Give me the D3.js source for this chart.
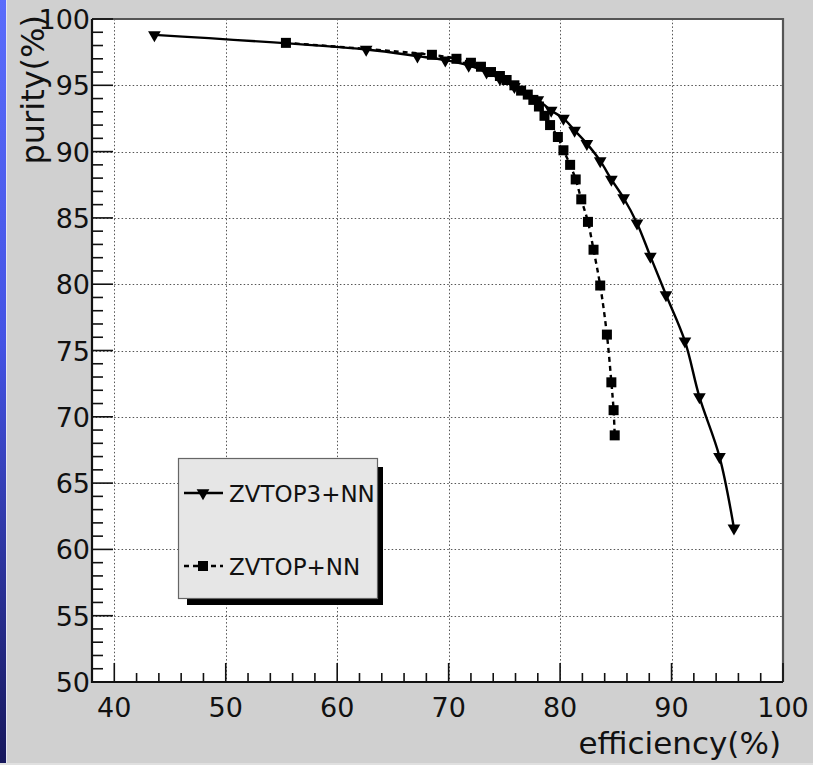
<!DOCTYPE html>
<html><head><meta charset="utf-8">
<script src="https://cdn.jsdelivr.net/npm/d3@7"></script>
<style>html,body{margin:0;padding:0;background:#d0d0d0;overflow:hidden}</style>
</head><body>
<script>
// ---- data ----
const zvtop3Eff = [43.6, 62.6, 67.2, 69.7, 71.8, 73.4, 74.6, 75.9, 78.0, 79.2, 80.3, 81.3, 82.4, 83.6, 84.6, 85.7, 86.9, 88.1, 89.5, 91.2, 92.5, 94.3, 95.6];
const zvtop3Pur = [98.8, 97.7, 97.2, 96.9, 96.5, 96.0, 95.5, 94.9, 93.9, 93.1, 92.5, 91.6, 90.6, 89.3, 87.9, 86.5, 84.6, 82.1, 79.2, 75.7, 71.5, 67.0, 61.6];
const zvtopEff = [55.4, 68.5, 70.7, 72.0, 72.9, 73.8, 74.6, 75.2, 75.9, 76.5, 77.1, 77.6, 78.1, 78.6, 79.1, 79.8, 80.3, 80.9, 81.4, 81.9, 82.5, 83.0, 83.6, 84.2, 84.6, 84.8, 84.9];
const zvtopPur = [98.2, 97.3, 97.0, 96.7, 96.4, 96.0, 95.7, 95.4, 95.0, 94.6, 94.3, 93.9, 93.4, 92.7, 92.0, 91.1, 90.1, 89.0, 87.9, 86.4, 84.7, 82.6, 79.9, 76.2, 72.6, 70.5, 68.6];
const xMajorTicks = [40, 50, 60, 70, 80, 90, 100];
const yMajorTicks = [50, 55, 60, 65, 70, 75, 80, 85, 90, 95, 100];
const seriesNames = ["ZVTOP3+NN", "ZVTOP+NN"];
const xTitle = "efficiency(%)";
const yTitle = "purity(%)";

const W = 813, H = 765;
const L = 92, R = 783, T = 19, B = 682;
const svg = d3.select("body").append("svg").attr("width", W).attr("height", H);
const FONT = "DejaVu Sans";

// background
const defs = svg.append("defs");
const g = defs.append("linearGradient").attr("id","blue").attr("x1",0).attr("y1",0).attr("x2",0).attr("y2",1);
g.append("stop").attr("offset","0").attr("stop-color","#5a6cfb");
g.append("stop").attr("offset","0.45").attr("stop-color","#4352e4");
g.append("stop").attr("offset","1").attr("stop-color","#16175c");
svg.append("rect").attr("width",W).attr("height",H).attr("fill","#d0d0d0");
svg.append("rect").attr("x",0).attr("y",0).attr("width",6).attr("height",H).attr("fill","url(#blue)");
svg.append("rect").attr("x",6).attr("y",0).attr("width",1).attr("height",H).attr("fill","#e4e6f4");
svg.append("rect").attr("x",0).attr("y",H-2).attr("width",W).attr("height",2).attr("fill","#e0e0e0");

const x = d3.scaleLinear().domain([38, 100]).range([L, R]);
const y = d3.scaleLinear().domain([50, 100]).range([B, T]);

svg.append("rect").attr("x",L).attr("y",T).attr("width",R-L).attr("height",B-T).attr("fill","#fff");

// grid
const grid = svg.append("g").attr("stroke","#555").attr("stroke-width",1).attr("stroke-dasharray","1.5,2.2");
grid.selectAll(".gx").data(xMajorTicks.filter(d=>d<100)).join("line")
  .attr("x1",d=>Math.round(x(d))+0.5).attr("x2",d=>Math.round(x(d))+0.5).attr("y1",T).attr("y2",B);
grid.selectAll(".gy").data(yMajorTicks.filter(d=>d>50&&d<100)).join("line")
  .attr("y1",d=>Math.round(y(d))+0.5).attr("y2",d=>Math.round(y(d))+0.5).attr("x1",L).attr("x2",R);

// frame top/right
svg.append("path").attr("d",`M${L},${T} H${R} V${B}`).attr("fill","none").attr("stroke","#555").attr("stroke-width",2.2);

// axes with inner ticks
const xMinor = d3.range(40, 100.1, 2).filter(d=>!xMajorTicks.includes(d));
const yMinor = d3.range(51, 100, 1).filter(d=>!yMajorTicks.includes(d));
const ax = svg.append("g").attr("stroke","#111").attr("stroke-width",1.6);
ax.selectAll(".xt").data(xMajorTicks).join("line")
  .attr("x1",d=>x(d)).attr("x2",d=>x(d)).attr("y1",B).attr("y2",B-19);
ax.selectAll(".xm").data(xMinor).join("line")
  .attr("x1",d=>x(d)).attr("x2",d=>x(d)).attr("y1",B).attr("y2",B-9);
ax.selectAll(".yt").data(yMajorTicks).join("line")
  .attr("y1",d=>y(d)).attr("y2",d=>y(d)).attr("x1",L).attr("x2",L+21);
ax.selectAll(".ym").data(yMinor).join("line")
  .attr("y1",d=>y(d)).attr("y2",d=>y(d)).attr("x1",L).attr("x2",L+11);
svg.append("path").attr("d",`M${L},${T} V${B} H${R}`).attr("fill","none").attr("stroke","#111").attr("stroke-width",2.2);

// tick labels
svg.append("g").selectAll("text").data(xMajorTicks).join("text")
  .attr("x",d=>x(d)).attr("y",717).attr("text-anchor","middle")
  .attr("font-family",FONT).attr("font-size",27).attr("fill","#111").text(d=>d);
svg.append("g").selectAll("text").data(yMajorTicks).join("text")
  .attr("x",90).attr("y",d=>y(d)+10).attr("text-anchor","end")
  .attr("font-family",FONT).attr("font-size",27).attr("fill","#111").text(d=>d);

// titles
svg.append("text").attr("x",781).attr("y",754).attr("text-anchor","end")
  .attr("font-family",FONT).attr("font-size",31).attr("fill","#111").text(xTitle);
svg.append("text").attr("transform","translate(44,15) rotate(-90)").attr("text-anchor","end")
  .attr("font-family",FONT).attr("font-size",32).attr("fill","#111").text(yTitle);

// series
const s1 = zvtop3Eff.map((e,i)=>[e, zvtop3Pur[i]]);
const s2 = zvtopEff.map((e,i)=>[e, zvtopPur[i]]);
const line = d3.line().x(d=>x(d[0])).y(d=>y(d[1])).curve(d3.curveCatmullRom.alpha(0.5));
const plot = svg.append("g");
plot.append("path").attr("d",line(s2)).attr("fill","none").attr("stroke","#000").attr("stroke-width",2.4).attr("stroke-dasharray","5,4");
plot.append("path").attr("d",line(s1)).attr("fill","none").attr("stroke","#000").attr("stroke-width",2.4);

const tri = d3.symbol().type(d3.symbolTriangle).size(70);
plot.selectAll(".tri").data(s1).join("path")
  .attr("d",tri).attr("transform",d=>`translate(${x(d[0])},${y(d[1])}) rotate(180)`).attr("fill","#000");
plot.selectAll(".sq").data(s2).join("rect")
  .attr("x",d=>x(d[0])-5).attr("y",d=>y(d[1])-5).attr("width",10).attr("height",10).attr("fill","#000");

// legend
const lg = svg.append("g");
lg.append("rect").attr("x",187).attr("y",467).attr("width",196).attr("height",138).attr("fill","#000");
lg.append("rect").attr("x",178.5).attr("y",458.5).attr("width",199).attr("height",140).attr("fill","#e6e6e6").attr("stroke","#666").attr("stroke-width",1.2);
const legY = [493, 566];
lg.append("line").attr("x1",184).attr("x2",223).attr("y1",legY[0]).attr("y2",legY[0]).attr("stroke","#000").attr("stroke-width",2.4);
lg.append("path").attr("d",tri).attr("transform",`translate(203,${legY[0]}) rotate(180)`).attr("fill","#000");
lg.append("line").attr("x1",184).attr("x2",223).attr("y1",legY[1]).attr("y2",legY[1]).attr("stroke","#000").attr("stroke-width",2.4).attr("stroke-dasharray","5,4");
lg.append("rect").attr("x",198).attr("y",legY[1]-5).attr("width",10).attr("height",10).attr("fill","#000");
lg.selectAll("text.l").data(seriesNames).join("text")
  .attr("x",229).attr("y",(d,i)=>legY[i]+9).attr("font-family",FONT).attr("font-size",23).attr("fill","#111").text(d=>d);
</script>
</body></html>
